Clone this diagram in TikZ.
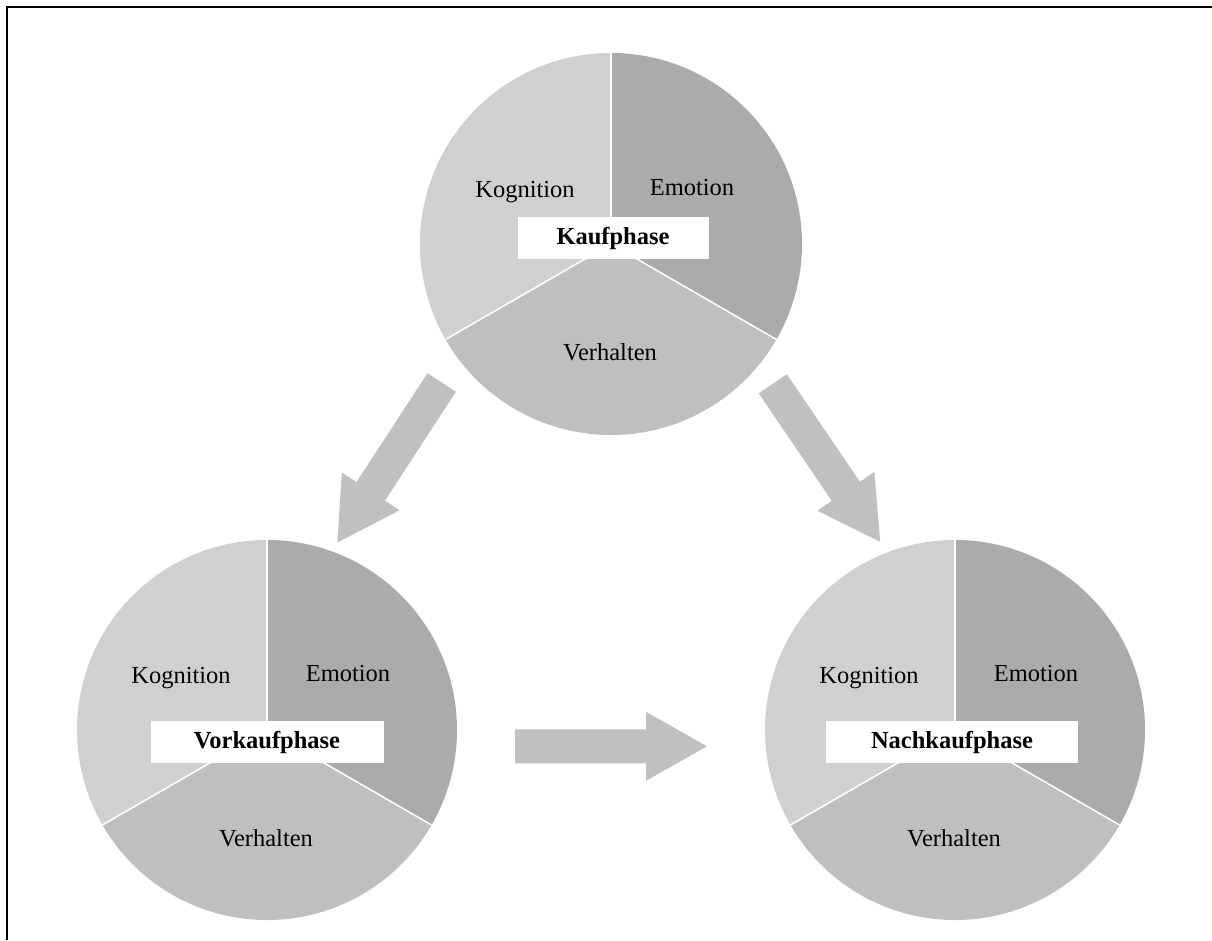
\documentclass[tikz,border=0pt]{standalone}
\usepackage{fontspec}
\setmainfont{Liberation Serif}
\usetikzlibrary{calc}

\definecolor{kogngrau}{RGB}{208,208,208}
\definecolor{emograu}{RGB}{171,171,171}
\definecolor{verhgrau}{RGB}{191,191,191}
\definecolor{pfeilgrau}{RGB}{192,192,192}

\tikzset{
	segtext/.style={font=\fontsize{24.5}{29}\selectfont, inner sep=0pt},
	phasebox/.style={fill=white, font=\fontsize{24.5}{29}\selectfont\bfseries, minimum height=42, inner sep=0pt},
	trenner/.style={white, line width=1.5pt},
	pfeil/.style={fill=pfeilgrau},
}

% Blockpfeil: Startpunkt, Winkel, Laenge
\newcommand{\blockpfeil}[3]{%
	\begin{scope}[shift={(#1)}, rotate=#2]
		\fill[pfeil] (0,-17) -- (#3-61,-17) -- (#3-61,-34.5) -- (#3,0)
			-- (#3-61,34.5) -- (#3-61,17) -- (0,17) -- cycle;
	\end{scope}}

\begin{document}
\begin{tikzpicture}[x=1pt, y=1pt]
		\useasboundingbox (0,0) rectangle (1212,940);

		% Rahmen
		\draw[line width=2.5pt] (7,0) -- (7,933) -- (1212,933);

		% drei Kreise mit Kognition, Emotion, Verhalten
		\foreach \name/\cx/\cy/\r/\bx/\by/\bw/\phase in {
			kauf/611/696/191/613/702/191/Kaufphase,
			vor/267/210/190/267/198/233/Vorkaufphase,
			nach/955/210/190/952/198/252/Nachkaufphase} {
			\coordinate (\name) at (\cx,\cy);
			\fill[kogngrau] (\name) -- ++(90:\r) arc[start angle=90, end angle=210, radius=\r] -- cycle;
			\fill[emograu] (\name) -- ++(90:\r) arc[start angle=90, end angle=-30, radius=\r] -- cycle;
			\fill[verhgrau] (\name) -- ++(210:\r) arc[start angle=210, end angle=330, radius=\r] -- cycle;
			\draw[trenner] (\name) -- ++(90:\r);
			\draw[trenner] (\name) -- ++(210:\r);
			\draw[trenner] (\name) -- ++(330:\r);
			\node[segtext] (\name-kogn) at ($(\name)+(-86,52)$) {Kognition};
			\node[segtext] (\name-emo) at ($(\name)+(81,56)$) {Emotion};
			\node[segtext] (\name-verh) at ($(\name)+(-1,-108)$) {Verhalten};
			\node[phasebox, minimum width=\bw] (\name-box) at (\bx,\by) {\phase};
		}

		% Pfeil zur Vorkaufphase
		\coordinate (pfeil-vor) at (441.7,557.5);
		\blockpfeil{pfeil-vor}{-123.1}{191}

		% Pfeil zur Nachkaufphase
		\coordinate (pfeil-nach) at (772.8,556.2);
		\blockpfeil{pfeil-nach}{-55.8}{191}

		% Pfeil von Vorkauf zu Nachkauf
		\coordinate (pfeil-mitte) at (515,193.7);
		\blockpfeil{pfeil-mitte}{0}{192}
\end{tikzpicture}
\end{document}
